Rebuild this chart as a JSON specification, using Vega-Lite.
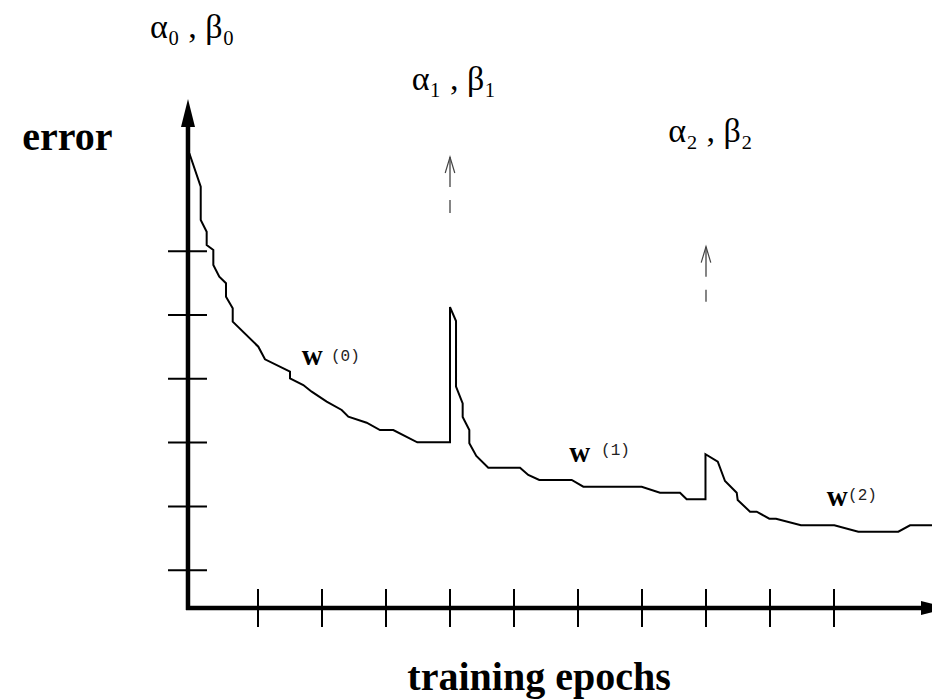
{
  "$schema": "https://vega.github.io/schema/vega-lite/v6.json",
  "width": 932,
  "height": 700,
  "padding": 0,
  "autosize": {"type": "none"},
  "background": "white",
  "config": {"view": {"stroke": null}},
  "datasets": {
    "curve": [
      {"i": 1, "epoch": -0.073, "error": 7.535},
      {"i": 2, "epoch": 0.105, "error": 7.011},
      {"i": 3, "epoch": 0.105, "error": 6.489},
      {"i": 4, "epoch": 0.198, "error": 6.306},
      {"i": 5, "epoch": 0.198, "error": 6.097},
      {"i": 6, "epoch": 0.302, "error": 6.019},
      {"i": 7, "epoch": 0.302, "error": 5.784},
      {"i": 8, "epoch": 0.395, "error": 5.6},
      {"i": 9, "epoch": 0.5, "error": 5.497},
      {"i": 10, "epoch": 0.5, "error": 5.287},
      {"i": 11, "epoch": 0.605, "error": 5.105},
      {"i": 12, "epoch": 0.605, "error": 4.895},
      {"i": 13, "epoch": 1.005, "error": 4.503},
      {"i": 14, "epoch": 1.109, "error": 4.306},
      {"i": 15, "epoch": 1.5, "error": 4.111},
      {"i": 16, "epoch": 1.5, "error": 4.008},
      {"i": 17, "epoch": 1.708, "error": 3.903},
      {"i": 18, "epoch": 1.839, "error": 3.798},
      {"i": 19, "epoch": 2.073, "error": 3.641},
      {"i": 20, "epoch": 2.308, "error": 3.511},
      {"i": 21, "epoch": 2.411, "error": 3.406},
      {"i": 22, "epoch": 2.698, "error": 3.312},
      {"i": 23, "epoch": 2.906, "error": 3.197},
      {"i": 24, "epoch": 3.114, "error": 3.197},
      {"i": 25, "epoch": 3.489, "error": 3.005},
      {"i": 26, "epoch": 4.0, "error": 3.005},
      {"i": 27, "epoch": 4.0, "error": 5.125},
      {"i": 28, "epoch": 4.094, "error": 4.906},
      {"i": 29, "epoch": 4.094, "error": 3.879},
      {"i": 30, "epoch": 4.198, "error": 3.613},
      {"i": 31, "epoch": 4.198, "error": 3.401},
      {"i": 32, "epoch": 4.302, "error": 3.197},
      {"i": 33, "epoch": 4.302, "error": 2.989},
      {"i": 34, "epoch": 4.411, "error": 2.79},
      {"i": 35, "epoch": 4.598, "error": 2.607},
      {"i": 36, "epoch": 5.094, "error": 2.607},
      {"i": 37, "epoch": 5.223, "error": 2.492},
      {"i": 38, "epoch": 5.395, "error": 2.414},
      {"i": 39, "epoch": 5.902, "error": 2.414},
      {"i": 40, "epoch": 6.083, "error": 2.309},
      {"i": 41, "epoch": 6.995, "error": 2.309},
      {"i": 42, "epoch": 7.281, "error": 2.215},
      {"i": 43, "epoch": 7.594, "error": 2.215},
      {"i": 44, "epoch": 7.698, "error": 2.111},
      {"i": 45, "epoch": 7.992, "error": 2.111},
      {"i": 46, "epoch": 7.992, "error": 2.818},
      {"i": 47, "epoch": 8.184, "error": 2.701},
      {"i": 48, "epoch": 8.297, "error": 2.398},
      {"i": 49, "epoch": 8.48, "error": 2.215},
      {"i": 50, "epoch": 8.495, "error": 2.1},
      {"i": 51, "epoch": 8.688, "error": 1.917},
      {"i": 52, "epoch": 8.792, "error": 1.917},
      {"i": 53, "epoch": 8.989, "error": 1.807},
      {"i": 54, "epoch": 9.094, "error": 1.807},
      {"i": 55, "epoch": 9.484, "error": 1.704},
      {"i": 56, "epoch": 10.005, "error": 1.704},
      {"i": 57, "epoch": 10.38, "error": 1.603},
      {"i": 58, "epoch": 11.005, "error": 1.603},
      {"i": 59, "epoch": 11.188, "error": 1.704},
      {"i": 60, "epoch": 11.531, "error": 1.704}
    ],
    "xticks": [{"epoch": 1}, {"epoch": 2}, {"epoch": 3}, {"epoch": 4}, {"epoch": 5}, {"epoch": 6}, {"epoch": 7}, {"epoch": 8}, {"epoch": 9}, {"epoch": 10}],
    "yticks": [{"error": 1}, {"error": 2}, {"error": 3}, {"error": 4}, {"error": 5}, {"error": 6}],
    "resets": [
      {"epoch": 4.0, "tip": 7.476, "end": 6.599},
      {"epoch": 8.0, "tip": 6.071, "end": 5.208}
    ],
    "titles": [
      {"text": "error", "epoch": -1.977, "error": 7.586},
      {"text": "training epochs", "epoch": 5.391, "error": -0.878}
    ],
    "params": [
      {"text": "α₀ , β₀", "epoch": -0.688, "error": 9.337},
      {"text": "α₁ , β₁", "epoch": 3.402, "error": 8.527},
      {"text": "α₂ , β₂", "epoch": 7.411, "error": 7.716}
    ],
    "weights": [
      {"text": "w", "epoch": 1.683, "error": 4.216},
      {"text": "w", "epoch": 5.864, "error": 2.701},
      {"text": "w", "epoch": 9.886, "error": 2.006}
    ],
    "supers": [
      {"text": "(0)", "epoch": 2.14, "error": 4.279},
      {"text": "(1)", "epoch": 6.36, "error": 2.806},
      {"text": "(2)", "epoch": 10.22, "error": 2.1}
    ]
  },
  "layer": [
    {
      "data": {"values": [{}]},
      "mark": {"type": "rule", "color": "black", "strokeWidth": 4.5},
      "encoding": {
        "x": {"datum": -0.094, "type": "quantitative", "scale": {"domain": [-3.03125, 11.53125], "nice": false, "zero": false}, "axis": null},
        "y": {"datum": 0.376, "type": "quantitative", "scale": {"domain": [-1.0345, 9.9373], "nice": false, "zero": false}, "axis": null},
        "y2": {"datum": 8.0}
      }
    },
    {
      "data": {"values": [{}]},
      "mark": {"type": "rule", "color": "black", "strokeWidth": 4.5},
      "encoding": {
        "x": {"datum": -0.125, "type": "quantitative"},
        "x2": {"datum": 11.42},
        "y": {"datum": 0.4075, "type": "quantitative"}
      }
    },
    {
      "data": {"values": [{}]},
      "mark": {"type": "point", "shape": "M0,0L0.5,2L-0.5,2Z", "size": 784, "filled": true, "color": "black", "opacity": 1, "strokeWidth": 0},
      "encoding": {
        "x": {"datum": -0.094, "type": "quantitative"},
        "y": {"datum": 8.386, "type": "quantitative"}
      }
    },
    {
      "data": {"values": [{}]},
      "mark": {"type": "point", "shape": "M0,0L-2,-0.5L-2,0.5Z", "size": 784, "filled": true, "color": "black", "opacity": 1, "strokeWidth": 0},
      "encoding": {
        "x": {"datum": 11.797, "type": "quantitative"},
        "y": {"datum": 0.4075, "type": "quantitative"}
      }
    },
    {
      "data": {"name": "xticks"},
      "mark": {"type": "rule", "color": "black", "strokeWidth": 2},
      "encoding": {
        "x": {"field": "epoch", "type": "quantitative"},
        "y": {"datum": 0.705, "type": "quantitative"},
        "y2": {"datum": 0.11}
      }
    },
    {
      "data": {"name": "yticks"},
      "mark": {"type": "rule", "color": "black", "strokeWidth": 2},
      "encoding": {
        "x": {"datum": -0.406, "type": "quantitative"},
        "x2": {"datum": 0.203},
        "y": {"field": "error", "type": "quantitative"}
      }
    },
    {
      "data": {"name": "curve"},
      "mark": {"type": "line", "color": "black", "strokeWidth": 2, "strokeJoin": "miter"},
      "encoding": {
        "x": {"field": "epoch", "type": "quantitative"},
        "y": {"field": "error", "type": "quantitative"},
        "order": {"field": "i", "type": "quantitative"}
      }
    },
    {
      "data": {"name": "resets"},
      "mark": {"type": "rule", "color": "#444444", "strokeWidth": 1.3, "strokeDash": [30, 13]},
      "encoding": {
        "x": {"field": "epoch", "type": "quantitative"},
        "y": {"field": "tip", "type": "quantitative"},
        "y2": {"field": "end"}
      }
    },
    {
      "data": {"name": "resets"},
      "mark": {"type": "point", "shape": "M-0.6,2L0,0L0.6,2", "size": 256, "filled": false, "color": "#444444", "opacity": 1, "strokeWidth": 1.2},
      "encoding": {
        "x": {"field": "epoch", "type": "quantitative"},
        "y": {"field": "tip", "type": "quantitative"}
      }
    },
    {
      "data": {"name": "titles"},
      "mark": {"type": "text", "font": "Liberation Serif", "fontWeight": "bold", "fontSize": 40, "align": "center", "baseline": "alphabetic", "color": "black"},
      "encoding": {
        "x": {"field": "epoch", "type": "quantitative"},
        "y": {"field": "error", "type": "quantitative"},
        "text": {"field": "text"}
      }
    },
    {
      "data": {"name": "params"},
      "mark": {"type": "text", "font": "Liberation Serif", "fontSize": 34, "align": "left", "baseline": "alphabetic", "color": "black"},
      "encoding": {
        "x": {"field": "epoch", "type": "quantitative"},
        "y": {"field": "error", "type": "quantitative"},
        "text": {"field": "text"}
      }
    },
    {
      "data": {"name": "weights"},
      "mark": {"type": "text", "font": "Liberation Serif", "fontWeight": "bold", "fontSize": 29, "align": "left", "baseline": "alphabetic", "color": "black"},
      "encoding": {
        "x": {"field": "epoch", "type": "quantitative"},
        "y": {"field": "error", "type": "quantitative"},
        "text": {"field": "text"}
      }
    },
    {
      "data": {"name": "supers"},
      "mark": {"type": "text", "font": "Liberation Mono", "fontSize": 16, "align": "left", "baseline": "alphabetic", "color": "#222222"},
      "encoding": {
        "x": {"field": "epoch", "type": "quantitative"},
        "y": {"field": "error", "type": "quantitative"},
        "text": {"field": "text"}
      }
    }
  ]
}
